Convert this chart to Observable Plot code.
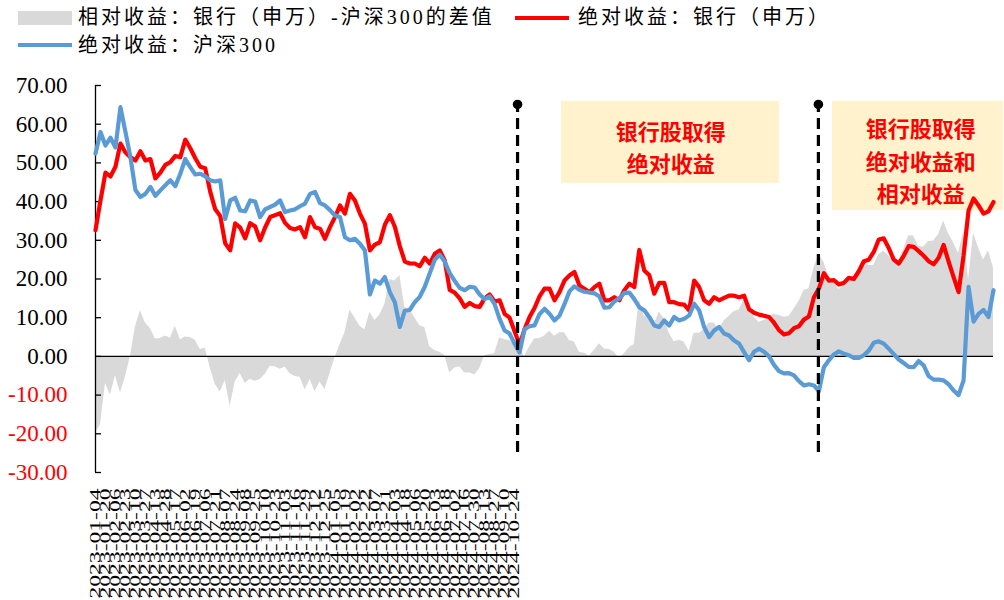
<!DOCTYPE html>
<html><head><meta charset="utf-8">
<script src="https://cdn.jsdelivr.net/npm/d3@7"></script>
<script src="https://cdn.jsdelivr.net/npm/@observablehq/plot@0.6"></script>
<style>
body{margin:0;background:#fff;width:1004px;height:600px;overflow:hidden;font-family:"Liberation Serif","Noto Sans CJK SC",serif;}
#legend{position:relative;height:60px;}
.sw{position:absolute;}
.lt{position:absolute;font-size:20px;letter-spacing:3px;line-height:20px;white-space:nowrap;color:#000;}
#chart svg{display:block;overflow:visible;}
</style></head><body>
<div id="legend"></div>
<div id="chart"></div>
<script>
// Series names (legend)
const seriesNames = ["相对收益：银行（申万）-沪深300的差值", "绝对收益：银行（申万）", "绝对收益：沪深300"];

// Absolute return: Banks (SW), %
const bank = [32.6,40.3,47.5,46.5,49,55,52.7,51.5,50.6,53,50.6,51,46,47.5,49.5,50.2,51.8,51.5,56,53.8,
51.2,49,48.6,42.5,38,36.3,29.2,27.4,34.4,33.3,30.5,34.4,33.6,30,33.3,36,36.5,37,34.5,33.2,
32.8,33.4,30.8,36,33.4,33,30.4,33.4,36,39,36.9,42,40.3,36.9,34.3,27.4,28.9,29.5,34,36.5,
33.5,28.5,24.5,24,24,23.3,25.5,24,26.5,27.4,24.8,17.2,16.5,15,12.8,13.8,13,12.8,15,16,
14.2,14.5,11,10,6.5,3,7,10.2,12.5,15.5,17.5,17.5,14.5,16.6,19.6,20.9,21.8,18.3,17.5,16.6,
17.9,18.8,14.5,14.5,15.3,14.5,17.1,18.8,17.9,27.5,22.2,21,16.2,19,19,14,14,13.5,13.4,11.9,
19.6,17.9,14.5,13.6,15.3,14.5,15.1,15.7,15.7,15.3,15.7,12.2,11.3,10.8,10.5,10.2,8.7,6.8,5.7,6,
7.3,7.8,9.5,10.3,15.3,17.5,21.5,19.6,19.7,18.6,19,20.3,20,22,24.6,25,27,30.2,30.5,28,
25,24,26,28.5,28.3,27.2,26,24.6,23.8,25.5,28.8,24.5,20.5,16.6,26,37.7,40.8,39,36.9,37.5,39.9];

// Absolute return: CSI 300, %
const hs300 = [52.4,58,54.5,56.5,54,64.4,58,51.5,43,41.2,42,43.8,41.5,42.9,44.2,45.5,44,47.2,51,48.9,
47,47.2,46.5,45.5,45.2,45.5,35.5,40.3,41,37.7,37.5,40.3,40,36,38,38.6,39.2,40.3,37.3,37.7,
38,38.8,39.5,42,42.5,39.6,39,37.8,36.4,36,30.8,30,30.4,29.1,27.4,16,19.6,18.8,20.5,16.6,
14,7.6,11.8,12,14,15.4,18,21.5,25,26.3,24.5,21.5,19.5,17.7,17.1,18,17.8,16,14.8,15.5,
13.5,9.7,6.7,5.9,3.3,1,7,7.8,8,10.9,12.3,11,9.3,10.5,13.5,16.8,18.1,17.2,16.7,16.5,
16.3,15.5,12.6,12.7,14.2,15,16.4,16.5,14.8,12.7,11.9,10.2,8,7.6,9.3,8,10.2,9.3,9.7,10.6,
13.6,11.9,7.6,5,6.7,7.6,5.9,5.4,4.1,3.3,1.1,-1,1.2,2,1.2,0,-2.2,-3.8,-4.4,-4.3,
-4.9,-6.4,-7.5,-7.2,-7.5,-9,-2.8,-1,0.5,1.3,0.7,0.3,-0.4,-0.4,0.3,1.5,3.5,3.9,3.3,2,
0.6,-0.8,-1.7,-2.7,-2.8,-1.2,-2.3,-5.1,-6,-6,-6.2,-7.2,-8.8,-10,-6.2,18,9,11,12,10.2,17.1];

// Category tick labels
const xLabels = ["2023-01-04","2023-01-20","2023-02-06","2023-02-23","2023-03-10","2023-03-27","2023-04-13","2023-04-28","2023-05-17","2023-06-02","2023-06-19","2023-07-06","2023-07-21","2023-08-07","2023-08-24","2023-09-08","2023-09-25",
"2023-10-10","2023-10-23","2023-11-03","2023-11-16","2023-11-29","2023-12-12","2023-12-25",
"2024-01-05","2024-01-19","2024-02-02","2024-02-22","2024-03-07","2024-03-21","2024-04-03","2024-04-18","2024-05-06","2024-05-20","2024-06-03","2024-06-18","2024-07-02","2024-07-16","2024-07-30","2024-08-13","2024-08-27","2024-09-10",
"2024-10-24"];

const yTicks = [-30,-20,-10,0,10,20,30,40,50,60,70];

// Event markers (positions in the series index) and annotation texts
const eventIndex = [84.6, 144.9];
const noteTexts = ["银行股取得\n绝对收益", "银行股取得\n绝对收益和\n相对收益"];

// ---------- build ----------
const colors = {rel:"#d9d9d9", bank:"#ff0000", hs:"#5b9bd5"};
const legend = document.getElementById("legend");
const legendItems = [
  {name: seriesNames[0], c: colors.rel, kind:"box", left:18, top:11, tl:78, tt:7},
  {name: seriesNames[1], c: colors.bank, kind:"line", left:515, top:16, tl:578, tt:7},
  {name: seriesNames[2], c: colors.hs, kind:"line", left:18, top:43, tl:78, tt:35}
];
for (const it of legendItems) {
  const s = document.createElement("div");
  s.className = "sw";
  s.style.left = it.left + "px"; s.style.top = it.top + "px";
  s.style.width = "54px"; s.style.height = it.kind === "box" ? "14px" : "4px";
  s.style.background = it.c;
  legend.appendChild(s);
  const t = document.createElement("div");
  t.className = "lt"; t.textContent = it.name;
  t.style.left = it.tl + "px"; t.style.top = it.tt + "px";
  legend.appendChild(t);
}

const rows = bank.map((b, i) => ({i, bank: b, hs: hs300[i], rel: b - hs300[i]}));
const n = rows.length;
const events = eventIndex.map(at => ({at}));

const boxes = [
  {x1: 93.4, x2: 137.1, y1: 44.7, y2: 65.9},
  {x1: 147.7, x2: 182, y1: 37.7, y2: 65.9}
];
const notes = [
  {x: 115.3, y: 54.5, t: noteTexts[0], lh: 1.47},
  {x: 165.4, y: 50.9, t: noteTexts[1], lh: 1.47}
];

const fontStack = "Liberation Serif, Noto Sans CJK SC, serif";
const noteMark = (d) => Plot.text([d], {x: "x", y: "y", text: "t", fill: "#ff0000", fontSize: 22, fontWeight: "bold",
  lineHeight: d.lh, fontFamily: "Noto Sans CJK SC, sans-serif"});

const chart = Plot.plot({
  width: 1004, height: 540,
  marginTop: 25, marginBottom: 128, marginLeft: 95, marginRight: 11,
  x: {domain: [0, n - 1]},
  y: {domain: [-30, 70]},
  style: {fontFamily: fontStack, background: "white", color: "black"},
  marks: [
    Plot.areaY(rows, {x: "i", y: "rel", fill: colors.rel, curve: "linear"}),
    Plot.rect(boxes, {x1: "x1", x2: "x2", y1: "y1", y2: "y2", fill: "#fff2cc"}),
    ...notes.map(noteMark),
    Plot.ruleY([0], {x1: 0, x2: n - 1, stroke: "black", strokeWidth: 1.3}),
    Plot.ruleX([0], {y1: -30, y2: 70, stroke: "black", strokeWidth: 1.3}),
    Plot.ruleY(yTicks, {x1: 0, x2: 1.2, stroke: "black", strokeWidth: 1.3}),
    Plot.axisY({ticks: yTicks.filter(d => d >= 0), tickFormat: d => d.toFixed(2), tickSize: 0, tickPadding: 28, fontSize: 23, color: "black"}),
    Plot.axisY({ticks: yTicks.filter(d => d < 0), tickFormat: d => d.toFixed(2), tickSize: 0, tickPadding: 28, fontSize: 23, color: "#ff0000"}),
    Plot.axisX({ticks: xLabels.map((_, k) => 2 * k), tickFormat: d => xLabels[Math.round(d / 2)], tickRotate: -90,
      tickSize: 0, tickPadding: 16, fontSize: 15, color: "black"}),
    Plot.lineY(rows, {x: "i", y: "bank", stroke: colors.bank, strokeWidth: 4.2, strokeLinejoin: "round"}),
    Plot.lineY(rows, {x: "i", y: "hs", stroke: colors.hs, strokeWidth: 4.2, strokeLinejoin: "round"}),
    Plot.ruleX(events, {x: "at", y1: -24.8, y2: 65, stroke: "black", strokeWidth: 3.2, strokeDasharray: "11,6"}),
    Plot.dot(events, {x: "at", y: 65.1, r: 4.8, fill: "black", stroke: "none"})
  ]
});
document.getElementById("chart").appendChild(chart);
chart.querySelectorAll('g[aria-label="x-axis tick label"] text').forEach(t => {
  t.setAttribute("textLength", "110");
  t.setAttribute("lengthAdjust", "spacingAndGlyphs");
});
</script>
</body></html>
